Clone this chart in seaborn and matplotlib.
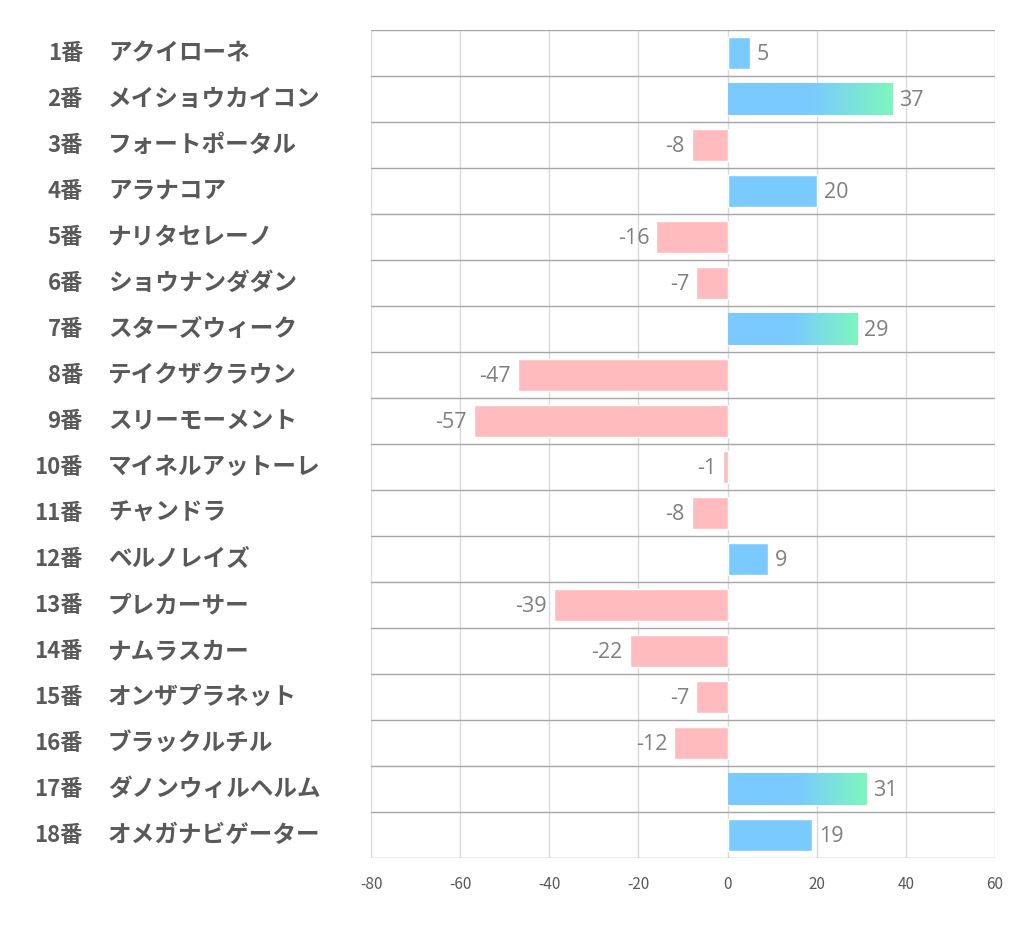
import numpy as np
import pandas as pd
import matplotlib
matplotlib.use("Agg")
import matplotlib.pyplot as plt
import matplotlib.transforms as mtransforms
from matplotlib.colors import LinearSegmentedColormap
import seaborn as sns

NUMBERS = [f"{i}番" for i in range(1, 19)]
NAMES = [
    "アクイローネ", "メイショウカイコン", "フォートポータル", "アラナコア",
    "ナリタセレーノ", "ショウナンダダン", "スターズウィーク", "テイクザクラウン",
    "スリーモーメント", "マイネルアットーレ", "チャンドラ", "ベルノレイズ",
    "プレカーサー", "ナムラスカー", "オンザプラネット", "ブラックルチル",
    "ダノンウィルヘルム", "オメガナビゲーター",
]
VALUES = [5, 37, -8, 20, -16, -7, 29, -47, -57, -1, -8, 9, -39, -22, -7, -12, 31, 19]
X_TICKS = [-80, -60, -40, -20, 0, 20, 40, 60]

BLUE  = "#7ACAFF"
GREEN = "#7DF7BD"
PINK  = "#FFBBBD"
GRAD_MIN = 25

sns.set_theme(style="white")
plt.rcParams["font.family"] = ["Noto Sans CJK JP", "DejaVu Sans"]

df = pd.DataFrame({"name": NAMES, "value": VALUES})
df["sign"] = np.where(df["value"] >= 0, "pos", "neg")

fig = plt.figure(figsize=(10.22, 9.39), dpi=100)
ax = fig.add_axes([371 / 1022, 1 - 858 / 939, 624 / 1022, 828 / 939])

sns.barplot(data=df, x="value", y="name", hue="sign", orient="h",
            palette={"pos": BLUE, "neg": PINK}, width=0.69,
            legend=False, ax=ax, saturation=1, zorder=2)

# gradient on the longer positive bars
cmap = LinearSegmentedColormap.from_list(
    "bg", [(0, BLUE), (0.5, BLUE), (1, GREEN)])
grad = np.linspace(0, 1, 256).reshape(1, -1)
for patch in ax.patches:
    w = patch.get_width()
    if w >= GRAD_MIN:
        x0, y0 = patch.get_x(), patch.get_y()
        h = patch.get_height()
        im = ax.imshow(grad, cmap=cmap, aspect="auto",
                       extent=[x0, x0 + w, y0 + h, y0], zorder=2.5)
        im.set_clip_path(patch)

ax.set_xlim(-80, 60)
ax.set_ylim(len(VALUES) - 0.5, -0.5)
ax.set_xticks(X_TICKS)
ax.set_xticklabels([str(t) for t in X_TICKS], fontsize=11, color="#595959")
ax.tick_params(axis="x", length=0, pad=13)
ax.set_yticks([])
ax.set_xlabel("")
ax.set_ylabel("")
for s in ax.spines.values():
    s.set_visible(False)

for t in X_TICKS:
    ax.axvline(t, color="#D9D9D9", lw=1, zorder=1)
for b in np.arange(-0.5, len(VALUES), 1.0):
    ax.axhline(b, color="#A6A6A6", lw=1, zorder=1)

# value labels
for i, v in enumerate(VALUES):
    if v >= 0:
        ax.annotate(str(v), (v, i), xytext=(5, -1), textcoords="offset points",
                    ha="left", va="center", fontsize=15.5, color="#7F7F7F",
                    family=["Open Sans", "DejaVu Sans"])
    else:
        ax.annotate(str(v), (v, i), xytext=(-5, -1), textcoords="offset points",
                    ha="right", va="center", fontsize=15.5, color="#7F7F7F",
                    family=["Open Sans", "DejaVu Sans"])

# row labels on the left
trans = mtransforms.blended_transform_factory(fig.transFigure, ax.transData)
for i, (num, name) in enumerate(zip(NUMBERS, NAMES)):
    ax.text(83 / 1022, i, num, transform=trans, ha="right", va="center",
            fontsize=16, fontweight="bold", color="#595959")
    ax.text(108 / 1022, i, name, transform=trans, ha="left", va="center",
            fontsize=17, fontweight="bold", color="#595959")

fig.savefig("out.png", dpi=100)
